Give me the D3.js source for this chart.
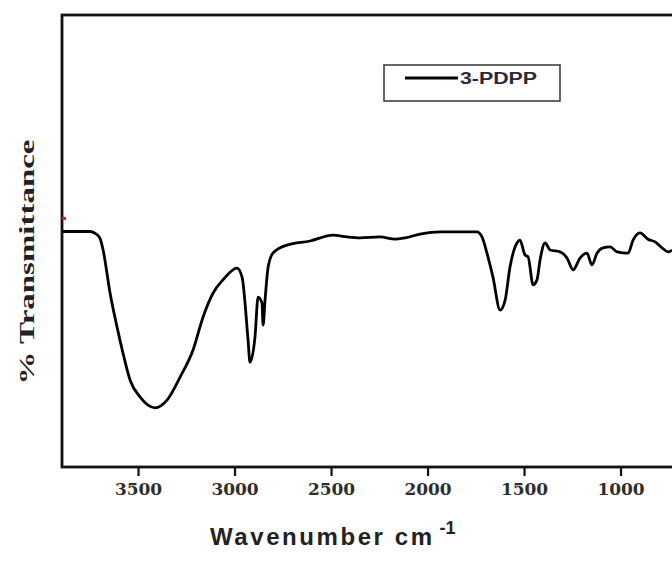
<!DOCTYPE html>
<html>
<head>
<meta charset="utf-8">
<script src="https://cdn.jsdelivr.net/npm/d3@7"></script>
<style>
  body { margin: 0; background: #fff; }
  svg { display: block; }
  .tick text { font-family: "DejaVu Serif", "Liberation Serif", serif; font-weight: bold; font-size: 17px; fill: #2e2e2e; }
  .tick line { stroke: #111; stroke-width: 2.2; }
</style>
</head>
<body>
<div id="chart"></div>
<script>
// 3-PDPP FTIR spectrum
const wavenumber = [3894, 3749, 3722, 3697, 3681, 3645, 3609, 3578, 3541, 3490, 3412, 3350, 3282, 3215, 3163, 3111, 3060,
  2987, 2961, 2930, 2920, 2894, 2878, 2858, 2852, 2842, 2826, 2801, 2728, 2609, 2490, 2417, 2350, 2246, 2168, 2117,
  2039, 1935, 1744, 1718, 1692, 1661, 1624, 1598, 1573, 1536, 1521, 1495, 1479, 1453, 1433, 1417, 1391, 1365, 1313,
  1277, 1246, 1210, 1174, 1148, 1122, 1091, 1054, 1018, 961, 935, 899, 858, 821, 785, 754, 733];
const transmittance = [52.1, 52.1, 51.7, 50.6, 48.0, 38.5, 31.0, 25.2, 19.2, 15.5, 13.1, 14.8, 19.9, 25.9, 33.2, 38.5, 41.4,
  44.0, 42.0, 28.1, 23.2, 28.8, 37.6, 36.3, 31.4, 36.9, 44.2, 47.3, 49.1, 50.0, 51.3, 50.9, 50.7, 50.9, 50.4, 50.7,
  51.5, 52.0, 52.0, 50.9, 47.3, 42.0, 34.7, 36.9, 44.2, 49.6, 50.2, 46.9, 46.5, 40.3, 41.4, 45.8, 49.6, 48.0, 47.6,
  46.2, 43.6, 46.2, 47.3, 44.7, 47.3, 48.5, 48.7, 47.6, 47.3, 50.2, 51.8, 50.4, 49.8, 48.5, 47.6, 48.0];
const xTicks = [3500, 3000, 2500, 2000, 1500, 1000];
const seriesName = "3-PDPP";

const width = 672, height = 566;
const plotLeft = 62, plotTop = 15, plotBottom = 467;

let svg = d3.select("#chart").append("svg")
    .attr("width", width)
    .attr("height", height);

// 500 cm-1 is about 96.5px, 3500 sits at x=138
let x = d3.scaleLinear()
    .domain([3894, 700])
    .range([plotLeft, plotLeft + (3894 - 700) * 0.193]);

let y = d3.scaleLinear()
    .domain([0, 100])
    .range([plotBottom, plotTop]);

// plot frame (right side runs off the picture)
svg.append("rect")
    .attr("x", plotLeft)
    .attr("y", plotTop)
    .attr("width", 700 - plotLeft)
    .attr("height", plotBottom - plotTop)
    .attr("fill", "none")
    .attr("stroke", "#111")
    .attr("stroke-width", 2.8);

let xAxis = svg.append("g")
    .attr("transform", `translate(0,${plotBottom})`)
    .call(d3.axisBottom(x).tickValues(xTicks).tickFormat(d3.format("d"))
      .tickSize(9).tickSizeOuter(0).tickPadding(7));
xAxis.select(".domain").remove();

// little red mark on the left axis
svg.append("line")
    .attr("x1", plotLeft).attr("x2", plotLeft + 4)
    .attr("y1", y(55)).attr("y2", y(55))
    .attr("stroke", "#d01a2a")
    .attr("stroke-width", 3);

let line = d3.line()
    .x((d, i) => x(wavenumber[i]))
    .y(d => y(d))
    .curve(d3.curveMonotoneX);

svg.append("path")
    .datum(transmittance)
    .attr("d", line)
    .attr("fill", "none")
    .attr("stroke", "#000")
    .attr("stroke-width", 2.8)
    .attr("stroke-linejoin", "round");

// legend
let legend = svg.append("g");
legend.append("rect")
    .attr("x", 384).attr("y", 65)
    .attr("width", 176).attr("height", 36)
    .attr("fill", "#fff")
    .attr("stroke", "#333")
    .attr("stroke-width", 1.5);
legend.append("line")
    .attr("x1", 405).attr("x2", 458)
    .attr("y1", 78).attr("y2", 78)
    .attr("stroke", "#000")
    .attr("stroke-width", 2.8);
legend.append("text")
    .attr("x", 460).attr("y", 84)
    .attr("font-family", "Liberation Sans, Arial, sans-serif")
    .attr("font-weight", "bold")
    .attr("font-size", 16)
    .attr("fill", "#2a2a3a")
    .attr("textLength", 77)
    .attr("lengthAdjust", "spacingAndGlyphs")
    .text(seriesName);

// axis titles
let xt = svg.append("text")
    .attr("x", 210).attr("y", 545)
    .attr("font-family", "Liberation Sans, Arial, sans-serif")
    .attr("font-weight", "bold")
    .attr("font-size", 24)
    .attr("fill", "#222");
xt.append("tspan").attr("textLength", 222).attr("lengthAdjust", "spacing").text("Wavenumber cm");
xt.append("tspan").attr("dx", 5).attr("dy", -11).attr("font-size", 18).text("-1");

svg.append("text")
    .attr("transform", "translate(34,262) rotate(-90)")
    .attr("text-anchor", "middle")
    .attr("font-family", "Liberation Serif, Times New Roman, serif")
    .attr("font-weight", "bold")
    .attr("font-size", 22)
    .attr("fill", "#222")
    .attr("textLength", 245)
    .attr("lengthAdjust", "spacingAndGlyphs")
    .text("% Transmittance");
</script>
</body>
</html>
